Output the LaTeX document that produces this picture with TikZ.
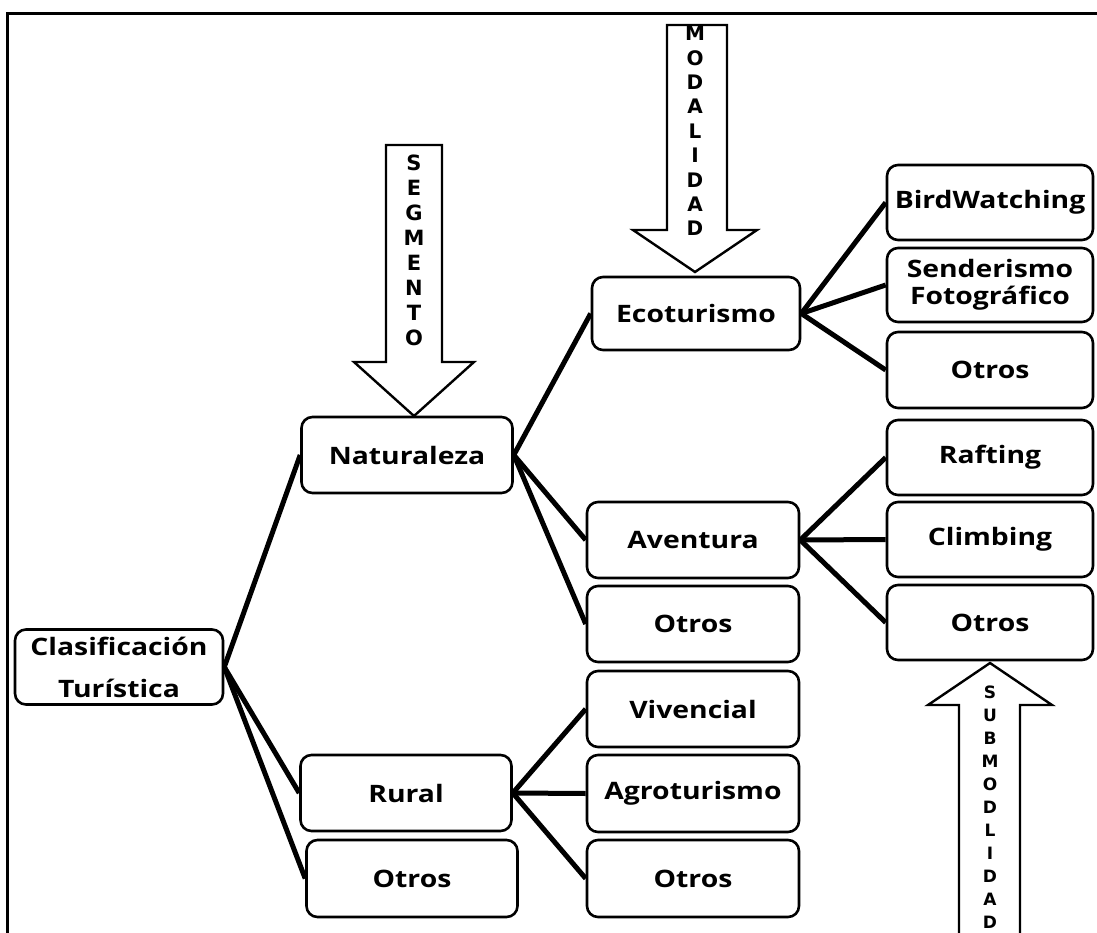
\documentclass[tikz,border=0pt]{standalone}
\usepackage{fontspec}
\setmainfont{Open Sans}[FakeStretch=1.18]
\newfontfamily\arrowfont{DejaVu Sans}
\begin{document}
\begin{tikzpicture}[x=1pt,y=-1pt,
  box/.style={draw=black, line width=2.6pt, rounded corners=11pt, fill=white, inner sep=0pt,
    font=\fontsize{24}{28}\selectfont\bfseries, align=center},
  colb/.style={minimum width=211pt, minimum height=76pt},
  colc/.style={minimum width=212pt, minimum height=76pt},
  cold/.style={minimum width=206pt, minimum height=75pt},
  conn/.style={line width=5pt, draw=black},
  blockarrow/.style={draw=black, line width=2.4pt, fill=white, line join=miter},
  arrowtext/.style={align=center, inner sep=0pt},
  frame/.style={line width=3pt, draw=black}
]
\useasboundingbox (0,0) rectangle (1097,933);

% frame
\draw[frame] (1097,14) -- (7,14) -- (7,933);

% block arrows
\draw[blockarrow] (386,145) -- (442,145) -- (442,362) -- (474,362) -- (414,416) -- (354,362) -- (386,362) -- cycle;
\draw[blockarrow] (667,25) -- (727,25) -- (727,230) -- (757,230) -- (695,272) -- (633,230) -- (667,230) -- cycle;
\draw[blockarrow] (959,945) -- (959,705) -- (928,705) -- (990,663) -- (1052,705) -- (1020,705) -- (1020,945);

\node[arrowtext, font=\arrowfont\bfseries\fontsize{21}{25}\selectfont] (segtxt) at (414,250) {S\\E\\G\\M\\E\\N\\T\\O};
\node[arrowtext, font=\arrowfont\bfseries\fontsize{20}{24.4}\selectfont] (modtxt) at (695,131) {M\\O\\D\\A\\L\\I\\D\\A\\D};
\node[arrowtext, font=\arrowfont\bfseries\fontsize{17}{23}\selectfont] (subtxt) at (990,807) {S\\U\\B\\M\\O\\D\\L\\I\\D\\A\\D};

% nodes
\node[box, minimum width=208pt, minimum height=75pt, font=\fontsize{24}{42}\selectfont\bfseries] (clas) at (119,667) {Clasificación\\Turística};

\node[box, colb] (nat) at (407,455) {Naturaleza};
\node[box, colb] (rur) at (406,793) {Rural};
\node[box, colb, minimum height=77pt] (otrb) at (412,878.5) {Otros};

\node[box, colc, minimum width=208pt, minimum height=73pt] (eco) at (696,313.5) {Ecoturismo};
\node[box, colc] (ave) at (693,540) {Aventura};
\node[box, colc] (otrc1) at (693,624) {Otros};
\node[box, colc] (viv) at (693,709) {Vivencial};
\node[box, colc, minimum height=77pt] (agr) at (693,793.5) {Agroturismo};
\node[box, colc, minimum height=77pt] (otrc2) at (693,878.5) {Otros};

\node[box, cold] (bird) at (990,202.5) {BirdWatching};
\node[box, cold, minimum height=74pt, font=\fontsize{24}{27}\selectfont\bfseries] (send) at (990,285) {Senderismo\\Fotográfico};
\node[box, cold, minimum height=76pt] (otrd1) at (990,370) {Otros};
\node[box, cold] (raf) at (990,457.5) {Rafting};
\node[box, cold] (cli) at (990,539.5) {Climbing};
\node[box, cold] (otrd2) at (990,622.5) {Otros};

% connectors
\draw[conn] (clas.east) -- (nat.west);
\draw[conn] (clas.east) -- (rur.west);
\draw[conn] (clas.east) -- (otrb.west);

\draw[conn] (nat.east) -- (eco.west);
\draw[conn] (nat.east) -- (ave.west);
\draw[conn] (nat.east) -- (otrc1.west);

\draw[conn] (rur.east) -- (viv.west);
\draw[conn] (rur.east) -- (agr.west);
\draw[conn] (rur.east) -- (otrc2.west);

\draw[conn] (eco.east) -- (bird.west);
\draw[conn] (eco.east) -- (send.west);
\draw[conn] (eco.east) -- (otrd1.west);

\draw[conn] (ave.east) -- (raf.west);
\draw[conn] (ave.east) -- (cli.west);
\draw[conn] (ave.east) -- (otrd2.west);
\end{tikzpicture}
\end{document}
